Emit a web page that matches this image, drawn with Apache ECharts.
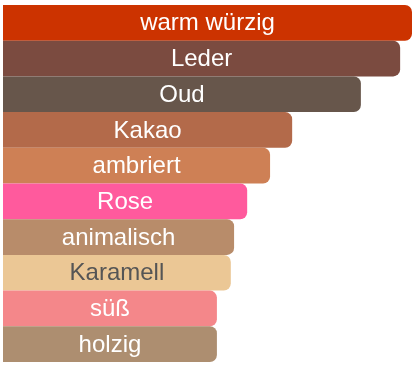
<!DOCTYPE html>
<html>
<head>
<meta charset="utf-8">
<script src="https://cdn.jsdelivr.net/npm/echarts@6/dist/echarts.min.js"></script>
<style>
html,body{margin:0;padding:0;background:#fff;}
#c{width:416px;height:365px;}
</style>
</head>
<body>
<div id="c"></div>
<script>
var categories = ["warm würzig","Leder","Oud","Kakao","ambriert","Rose","animalisch","Karamell","süß","holzig"];
var values = [100, 97.1, 87.5, 70.7, 65.3, 59.7, 56.5, 55.7, 52.3, 52.3];
var colors = ["#CC3300","#7B4B40","#67564B","#B36A4A","#CE8055","#FF5A9D","#B88C6A","#EBC795","#F4878A","#AD8E70"];
var labelColors = ["#fff","#fff","#fff","#fff","#fff","#fff","#fff","#555555","#fff","#fff"];

var chart = echarts.init(document.getElementById('c'), null, {renderer:'canvas'});
chart.setOption({
  animation:false,
  grid:{left:3,right:4,top:5,bottom:3,containLabel:false},
  xAxis:{type:'value',min:0,max:100,show:false},
  yAxis:{type:'category',data:categories,inverse:true,show:false},
  series:[{
    type:'bar',
    barCategoryGap:'0%',
    data: values.map(function(v,i){
      return {value:v,itemStyle:{color:colors[i]},label:{color:labelColors[i]}};
    }),
    itemStyle:{borderRadius:[0,7,7,0]},
    label:{show:true,position:'inside',offset:[0,1],formatter:function(p){return p.name;},
      fontFamily:'"Liberation Sans", Arial, sans-serif',fontSize:24}
  }]
});
</script>
</body>
</html>
